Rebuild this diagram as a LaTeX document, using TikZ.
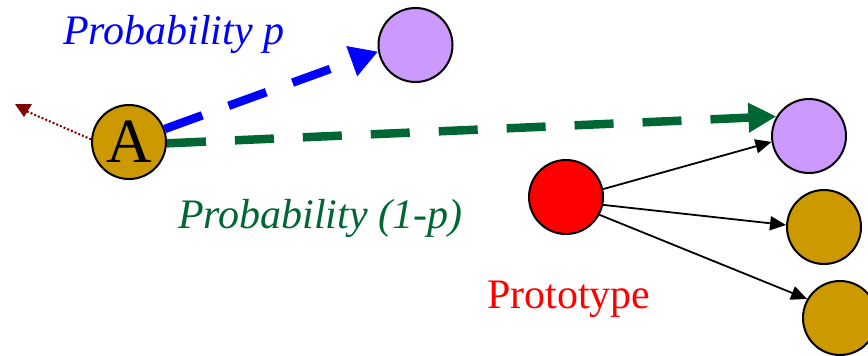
\documentclass[tikz,border=0pt]{standalone}
\usepackage{fontspec}
\setmainfont{Liberation Serif}
\usetikzlibrary{arrows.meta}
\definecolor{gold}{HTML}{CC9900}
\definecolor{lilac}{HTML}{CC99FF}
\definecolor{dgreen}{HTML}{006633}
\definecolor{dred}{HTML}{800000}
\tikzset{
  ball/.style={circle, draw=black, line width=2pt, minimum size=74pt, inner sep=0pt},
  bigdash/.style={line width=8.5pt, line cap=butt},
  thin arrow/.style={line width=1.8pt, -{Triangle[length=16pt,width=14pt]}},
  lbl/.style={anchor=base west, inner sep=0pt, font=\fontsize{42pt}{42pt}\selectfont},
}
\begin{document}
\begin{tikzpicture}[x=1pt,y=-1pt]
\clip (0,0) rectangle (868,356);
\fill[white] (0,0) rectangle (868,356);

\node[ball, fill=gold, font=\fontsize{63pt}{63pt}\selectfont] (A) at (129,142) {\raisebox{-4pt}{A}};
\node[ball, fill=lilac] (p1) at (415.5,45) {};
\node[ball, fill=lilac] (p2) at (809,136) {};
\node[ball, fill=red] (r) at (566,197) {};
\node[ball, fill=gold] (g1) at (824,227) {};
\node[ball, fill=gold] (g2) at (840,318) {};

\node[lbl, text=blue] (t1) at (63,45) {\itshape Probability p};
\node[lbl, text=dgreen] (t2) at (178,228) {\itshape Probability (1-p)};
\node[lbl, text=red] (t3) at (487,308) {Prototype};

\draw[bigdash, blue, dash pattern=on 40pt off 28pt, -{Triangle[length=28pt,width=30pt]}] (A.20) -- (p1.190);
\draw[bigdash, dgreen, dash pattern=on 39pt off 29pt, -{Triangle[length=28pt,width=28pt]}] (A.-2) -- (p2.149);

\coordinate (dtip) at (26,111);
\draw[dred, line width=2pt, dash pattern=on 2pt off 2pt] (A.176) -- (dtip);
\fill[dred] (15,104) -- (32,104) -- (24,117) -- cycle;

\draw[thin arrow] (r.12) -- (p2.189);
\draw[thin arrow] (r.-12) -- (g1.177);
\draw[thin arrow] (r.-28) -- (g2.150);
\end{tikzpicture}
\end{document}
